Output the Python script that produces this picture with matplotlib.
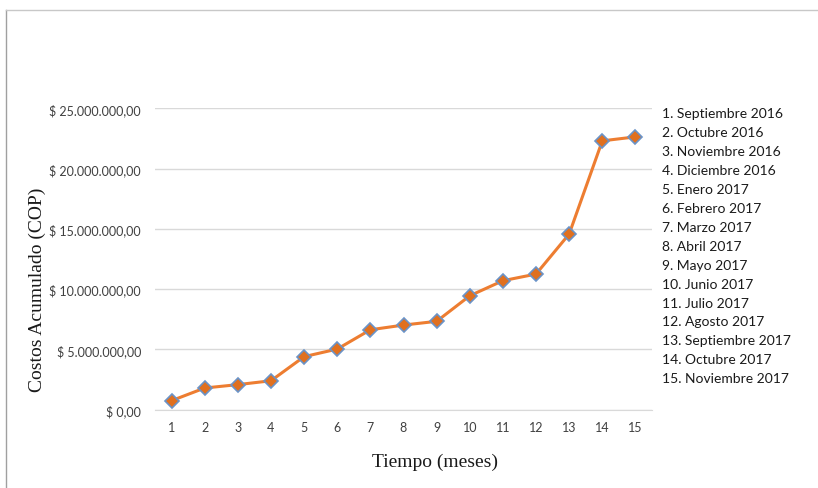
## costos acumulados por mes (COP)

import numpy as np
import matplotlib.pyplot as plt
from matplotlib.ticker import FuncFormatter

meses = np.arange(1, 16)
costos = [750000, 1800000, 2080000, 2400000, 4400000, 5030000, 6630000, 7020000,
          7330000, 9450000, 10700000, 11250000, 14570000, 22300000, 22630000]
nombres = ["Septiembre 2016", "Octubre 2016", "Noviembre 2016", "Diciembre 2016",
           "Enero 2017", "Febrero 2017", "Marzo 2017", "Abril 2017", "Mayo 2017",
           "Junio 2017", "Julio 2017", "Agosto 2017", "Septiembre 2017",
           "Octubre 2017", "Noviembre 2017"]

W, H = 818, 489
fig = plt.figure(figsize=(W / 100, H / 100), dpi=100)
ax = fig.add_axes([155 / W, 1 - 410.7 / H, (652 - 155) / W, (410.7 - 109.3) / H])

ax.plot(meses, costos, color="#ED7D31", lw=2.2, marker="D", ms=7,
        markerfacecolor="#E0701F", markeredgecolor="#6A93C8", markeredgewidth=1.2,
        zorder=3)

ax.set_xlim(0.5, 15.5)
ax.set_ylim(0, 25000000)
ax.set_yticks(np.arange(0, 25000001, 5000000))
ax.set_xticks(meses)


def pesos(v, pos):
    s = f"{v:,.2f}".replace(",", "X").replace(".", ",").replace("X", ".")
    return "$ " + s


ax.yaxis.set_major_formatter(FuncFormatter(pesos))
ax.grid(axis="y", color="#D9D9D9", lw=1)
ax.set_axisbelow(True)
for s in ["top", "right", "left"]:
    ax.spines[s].set_visible(False)
ax.spines["bottom"].set_color("#D9D9D9")
ax.tick_params(axis="both", length=0, labelsize=9, colors="#404040")
ax.tick_params(axis="y", pad=10)
ax.tick_params(axis="x", pad=8)
for t in ax.get_xticklabels() + ax.get_yticklabels():
    t.set_family("Lato")

fig.text(435 / W, 1 - 462 / H, "Tiempo (meses)", family="Liberation Serif",
         fontsize=14, ha="center", va="center", color="#1a1a1a")
fig.text(37 / W, 1 - 290 / H, "Costos Acumulado (COP)", family="Liberation Serif",
         fontsize=14, rotation=90, ha="center", va="center", color="#1a1a1a")

## lista de meses a la derecha
for i, n in enumerate(nombres):
    fig.text(662 / W, 1 - (114 + i * 18.95) / H, f"{i + 1}. {n}", family="Lato",
             fontsize=10, ha="left", va="center", color="#1a1a1a")

## marco de la imagen (solo arriba e izquierda)
fig.add_artist(plt.Line2D([5.5 / W, 5.5 / W], [0, 1 - 10.5 / H],
                          transform=fig.transFigure, color="#A0A0A0", lw=1))
fig.add_artist(plt.Line2D([5.5 / W, 1], [1 - 10.5 / H, 1 - 10.5 / H],
                          transform=fig.transFigure, color="#C8C8C8", lw=1))

fig.savefig("out.png", dpi=100)
